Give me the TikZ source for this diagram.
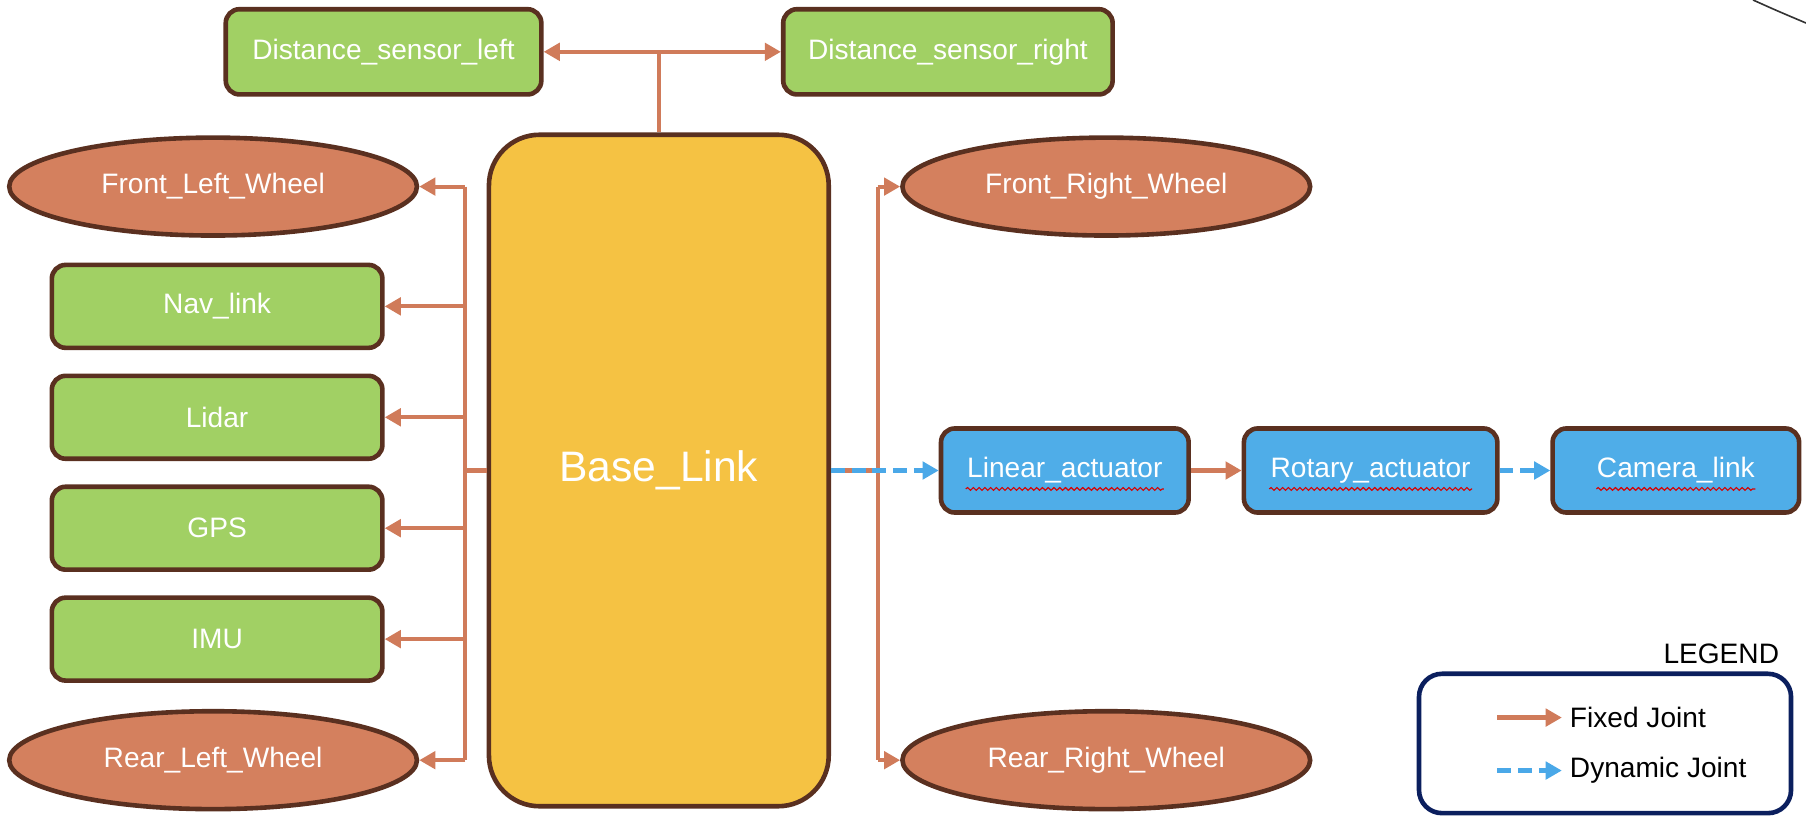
\documentclass[tikz,border=0pt]{standalone}
\usepackage{fontspec}
\setmainfont{Liberation Sans}
\usetikzlibrary{arrows.meta, positioning, shapes.geometric, decorations.pathmorphing}

\definecolor{linkgreen}{RGB}{161,208,100}
\definecolor{wheelred}{RGB}{212,128,94}
\definecolor{baseyellow}{RGB}{245,194,67}
\definecolor{actblue}{RGB}{79,173,232}
\definecolor{edgebrown}{RGB}{90,48,32}
\definecolor{fixedc}{RGB}{208,123,90}
\definecolor{dync}{RGB}{74,168,232}
\definecolor{legnavy}{RGB}{11,31,94}

\begin{document}
\begin{tikzpicture}[x=0.5pt, y=-0.5pt, font=\fontsize{12.2}{14}\selectfont,
    box/.style={draw=edgebrown, line width=2pt, rounded corners=6pt, text=white,
        minimum width=143.5pt, minimum height=36pt, inner sep=0pt},
    wheel/.style={ellipse, draw=edgebrown, line width=2pt, fill=wheelred, text=white,
        minimum width=177pt, minimum height=42.5pt, inner sep=0pt},
    bus/.style={draw=fixedc, line width=1.8pt},
    fixed/.style={draw=fixedc, line width=1.8pt, -{Triangle[length=7pt, width=7.5pt]}},
    dynjoint/.style={draw=dync, line width=1.8pt, dash pattern=on 6pt off 3pt,
        -{Triangle[length=7pt, width=7.5pt]}},
    squiggle/.style={draw=red!85!black, line width=0.5pt, decorate,
        decoration={snake, amplitude=0.6pt, segment length=2.5pt}}]
    \useasboundingbox (0,0) rectangle (1568,726);
    % 主体
    \node[box, fill=baseyellow, minimum width=147.5pt, minimum height=291.5pt,
        rounded corners=22pt, font=\fontsize{18.5}{22}\selectfont] (base) at (572,408.5) {Base\_Link};
    % 距离传感器
    \node[box, fill=linkgreen, minimum width=137pt, minimum height=37pt] (dsl) at (333,45) {Distance\_sensor\_left};
    \node[box, fill=linkgreen, minimum width=143pt, minimum height=37pt] (dsr) at (823,45) {Distance\_sensor\_right};
    % 左侧传感器
    \foreach \t [count=\i] in {Nav\_link, Lidar, GPS, IMU} {
        \node[box, fill=linkgreen] (L\i) at (188.5,{266+(\i-1)*96.3}) {\t};
    }
    % 车轮
    \node[wheel] (FL) at (185,162) {Front\_Left\_Wheel};
    \node[wheel] (RL) at (185,660) {Rear\_Left\_Wheel};
    \node[wheel] (FR) at (960.5,162) {Front\_Right\_Wheel};
    \node[wheel] (RR) at (960.5,660) {Rear\_Right\_Wheel};
    % 执行器与相机
    \node[box, fill=actblue, minimum width=107.5pt, minimum height=36.5pt] (lin) at (924.5,408.5) {Linear\_actuator};
    \node[box, fill=actblue, minimum width=110pt, minimum height=36.5pt] (rot) at (1190,408.5) {Rotary\_actuator};
    \node[box, fill=actblue, minimum width=107pt, minimum height=36.5pt] (cam) at (1455,408.5) {Camera\_link};
    \foreach \n/\w in {lin/43, rot/44, cam/34.5} {
        \draw[squiggle] ([xshift=-\w pt, yshift=-8pt]\n.center) -- ([xshift=\w pt, yshift=-8pt]\n.center);
    }
    % 顶部连接
    \coordinate (top) at (base.north |- dsl.east);
    \draw[bus] (base.north) -- (top);
    \draw[fixed] (top) -- (dsl.east);
    \draw[fixed] (top) -- (dsr.west);
    % 左侧总线
    \coordinate (lbus) at (404,408.5);
    \draw[bus] (base.west) -- (lbus);
    \draw[bus] (lbus |- FL.east) -- (lbus |- RL.east);
    \foreach \n in {FL, L1, L2, L3, L4, RL} {
        \draw[fixed] (lbus |- \n.east) -- (\n.east);
    }
    % 右侧总线
    \coordinate (rbus) at (762,408.5);
    \draw[bus] (base.east) -- (rbus);
    \draw[bus] (rbus |- FR.west) -- (rbus |- RR.west);
    \draw[fixed] (rbus |- FR.west) -- (FR.west);
    \draw[fixed] (rbus |- RR.west) -- (RR.west);
    % 关节
    \draw[dynjoint] (base.east) -- (lin.west);
    \draw[fixed] (lin.east) -- (rot.west);
    \draw[dynjoint] (rot.east) -- (cam.west);
    % 图例
    \node[anchor=south east, inner sep=0pt] (legtitle) at (1545,577) {LEGEND};
    \node[draw=legnavy, line width=2pt, rounded corners=10pt, minimum width=161.5pt,
        minimum height=60.5pt] (legend) at (1393.5,645.5) {};
    \node[anchor=west] (fixtxt) at (1356,623) {Fixed Joint};
    \node[anchor=west] (dyntxt) at (1356,669) {Dynamic Joint};
    \coordinate (fixstart) at (1300,623);
    \coordinate (dynstart) at (1300,669);
    \draw[fixed] (fixstart) -- (fixtxt.west);
    \draw[dynjoint] (dynstart) -- (dyntxt.west);
    % 右上角弧线
    \draw[black!80, line width=0.7pt] (1522,0) .. controls (1542,9) .. (1568,20);
\end{tikzpicture}
\end{document}
